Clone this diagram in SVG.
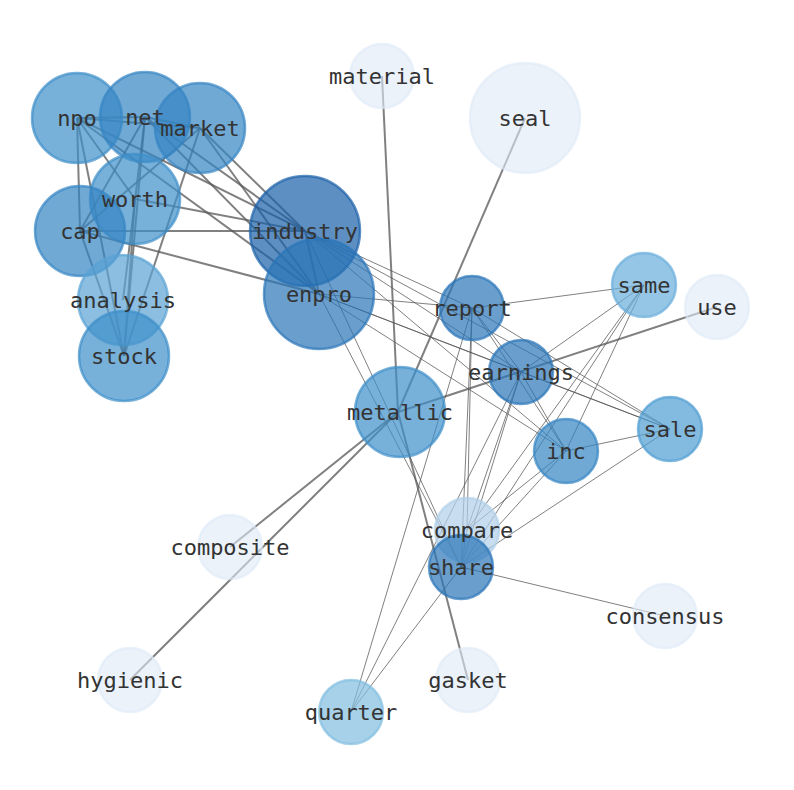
<svg xmlns="http://www.w3.org/2000/svg" width="794" height="790" viewBox="0 0 794 790">
<style>
.e2{stroke:#555;stroke-opacity:0.75;stroke-width:2;fill:none}
.e1{stroke:#555;stroke-opacity:0.75;stroke-width:1;fill:none}
circle{stroke-width:2.5;fill-opacity:0.7;stroke-opacity:0.7}
text{font-family:"DejaVu Sans Mono","Liberation Mono",monospace;font-size:22px;fill:#333;text-anchor:middle;dominant-baseline:central}
.c1{fill:#1a5fa8;stroke:#1a5fa8}
.c2{fill:#2a75b8;stroke:#2a75b8}
.c3{fill:#3585c3;stroke:#3585c3}
.c4{fill:#3d8ec9;stroke:#3d8ec9}
.c5{fill:#4f9dd2;stroke:#4f9dd2}
.c6{fill:#5aa3d4;stroke:#5aa3d4}
.c7{fill:#6aaedb;stroke:#6aaedb}
.c8{fill:#82bde0;stroke:#82bde0}
.c9{fill:#b0d0ea;stroke:#b0d0ea}
.c0{fill:#dde9f7;stroke:#dde9f7;fill-opacity:0.6;stroke-opacity:0.6}
</style>
<rect width="794" height="790" fill="#fff"/>
<g id="edges">
<g class="e2">
<line x1="77" y1="118" x2="145" y2="117"/>
<line x1="77" y1="118" x2="200" y2="128"/>
<line x1="77" y1="118" x2="80" y2="231"/>
<line x1="77" y1="118" x2="124" y2="356"/>
<line x1="77" y1="118" x2="135" y2="199"/>
<line x1="77" y1="118" x2="305" y2="231"/>
<line x1="77" y1="118" x2="319" y2="294"/>
<line x1="145" y1="117" x2="200" y2="128"/>
<line x1="145" y1="117" x2="80" y2="231"/>
<line x1="145" y1="117" x2="124" y2="356"/>
<line x1="145" y1="117" x2="123" y2="300"/>
<line x1="145" y1="117" x2="305" y2="231"/>
<line x1="145" y1="117" x2="319" y2="294"/>
<line x1="200" y1="128" x2="80" y2="231"/>
<line x1="200" y1="128" x2="124" y2="356"/>
<line x1="200" y1="128" x2="305" y2="231"/>
<line x1="200" y1="128" x2="319" y2="294"/>
<line x1="135" y1="199" x2="305" y2="231"/>
<line x1="135" y1="199" x2="124" y2="356"/>
<line x1="80" y1="231" x2="305" y2="231"/>
<line x1="80" y1="231" x2="319" y2="294"/>
<line x1="80" y1="231" x2="124" y2="356"/>
<line x1="305" y1="231" x2="319" y2="294"/>
<line x1="382" y1="76" x2="398" y2="412"/>
<line x1="525" y1="118" x2="398" y2="412"/>
<line x1="717" y1="307" x2="398" y2="412"/>
<line x1="230" y1="547" x2="398" y2="412"/>
<line x1="130" y1="680" x2="398" y2="412"/>
<line x1="468" y1="680" x2="398" y2="412"/>
</g>
<g class="e1">
<line x1="305" y1="231" x2="472" y2="308"/>
<line x1="305" y1="231" x2="521" y2="372"/>
<line x1="305" y1="231" x2="670" y2="429"/>
<line x1="305" y1="231" x2="566" y2="451"/>
<line x1="305" y1="231" x2="461" y2="567"/>
<line x1="319" y1="294" x2="472" y2="308"/>
<line x1="319" y1="294" x2="521" y2="372"/>
<line x1="319" y1="294" x2="670" y2="429"/>
<line x1="319" y1="294" x2="566" y2="451"/>
<line x1="319" y1="294" x2="461" y2="567"/>
<line x1="472" y1="308" x2="644" y2="285"/>
<line x1="472" y1="308" x2="521" y2="372"/>
<line x1="472" y1="308" x2="566" y2="451"/>
<line x1="472" y1="308" x2="670" y2="429"/>
<line x1="472" y1="308" x2="461" y2="567"/>
<line x1="472" y1="308" x2="467" y2="530"/>
<line x1="472" y1="308" x2="351" y2="712"/>
<line x1="644" y1="285" x2="521" y2="372"/>
<line x1="644" y1="285" x2="566" y2="451"/>
<line x1="644" y1="285" x2="461" y2="567"/>
<line x1="644" y1="285" x2="467" y2="530"/>
<line x1="521" y1="372" x2="670" y2="429"/>
<line x1="521" y1="372" x2="566" y2="451"/>
<line x1="521" y1="372" x2="461" y2="567"/>
<line x1="521" y1="372" x2="467" y2="530"/>
<line x1="521" y1="372" x2="351" y2="712"/>
<line x1="566" y1="451" x2="670" y2="429"/>
<line x1="566" y1="451" x2="461" y2="567"/>
<line x1="566" y1="451" x2="467" y2="530"/>
<line x1="670" y1="429" x2="461" y2="567"/>
<line x1="461" y1="567" x2="467" y2="530"/>
<line x1="461" y1="567" x2="665" y2="616"/>
<line x1="461" y1="567" x2="351" y2="712"/>
</g>
</g>
<g id="nodes">
<g id="node-material"><circle class="c0" cx="382" cy="76" r="32"/></g>
<g id="node-seal"><circle class="c0" cx="525" cy="118" r="55"/></g>
<g id="node-use"><circle class="c0" cx="717" cy="307" r="32"/></g>
<g id="node-composite"><circle class="c0" cx="230" cy="547" r="32"/></g>
<g id="node-hygienic"><circle class="c0" cx="130" cy="680" r="32"/></g>
<g id="node-gasket"><circle class="c0" cx="468" cy="680" r="32"/></g>
<g id="node-consensus"><circle class="c0" cx="665" cy="616" r="32"/></g>
<g id="node-npo"><circle class="c4" cx="77" cy="118" r="45"/></g>
<g id="node-net"><circle class="c3" cx="145" cy="117" r="45"/></g>
<g id="node-market"><circle class="c3" cx="200" cy="128" r="45"/></g>
<g id="node-worth"><circle class="c4" cx="135" cy="199" r="45"/></g>
<g id="node-cap"><circle class="c3" cx="80" cy="231" r="45"/></g>
<g id="node-analysis"><circle class="c6" cx="123" cy="300" r="45"/></g>
<g id="node-stock"><circle class="c4" cx="124" cy="356" r="45"/></g>
<g id="node-industry"><circle class="c1" cx="305" cy="231" r="55"/></g>
<g id="node-enpro"><circle class="c2" cx="319" cy="294" r="55"/></g>
<g id="node-report"><circle class="c2" cx="472" cy="308" r="32"/></g>
<g id="node-same"><circle class="c7" cx="644" cy="285" r="32"/></g>
<g id="node-earnings"><circle class="c2" cx="521" cy="372" r="32"/></g>
<g id="node-metallic"><circle class="c4" cx="400" cy="412" r="45"/></g>
<g id="node-sale"><circle class="c5" cx="670" cy="429" r="32"/></g>
<g id="node-inc"><circle class="c3" cx="566" cy="451" r="32"/></g>
<g id="node-compare"><circle class="c9" cx="467" cy="530" r="32"/></g>
<g id="node-share"><circle class="c2" cx="461" cy="567" r="32"/></g>
<g id="node-quarter"><circle class="c8" cx="351" cy="712" r="32"/></g>
</g>
<g id="labels">
<text id="label-material" x="382" y="76">material</text>
<text id="label-seal" x="525" y="118">seal</text>
<text id="label-use" x="717" y="307">use</text>
<text id="label-composite" x="230" y="547">composite</text>
<text id="label-hygienic" x="130" y="680">hygienic</text>
<text id="label-gasket" x="468" y="680">gasket</text>
<text id="label-consensus" x="665" y="616">consensus</text>
<text id="label-npo" x="77" y="118">npo</text>
<text id="label-net" x="145" y="117">net</text>
<text id="label-market" x="200" y="128">market</text>
<text id="label-worth" x="135" y="199">worth</text>
<text id="label-cap" x="80" y="231">cap</text>
<text id="label-analysis" x="123" y="300">analysis</text>
<text id="label-stock" x="124" y="356">stock</text>
<text id="label-industry" x="305" y="231">industry</text>
<text id="label-enpro" x="319" y="294">enpro</text>
<text id="label-report" x="472" y="308">report</text>
<text id="label-same" x="644" y="285">same</text>
<text id="label-earnings" x="521" y="372">earnings</text>
<text id="label-metallic" x="400" y="412">metallic</text>
<text id="label-sale" x="670" y="429">sale</text>
<text id="label-inc" x="566" y="451">inc</text>
<text id="label-compare" x="467" y="530">compare</text>
<text id="label-share" x="461" y="567">share</text>
<text id="label-quarter" x="351" y="712">quarter</text>
</g>
</svg>
